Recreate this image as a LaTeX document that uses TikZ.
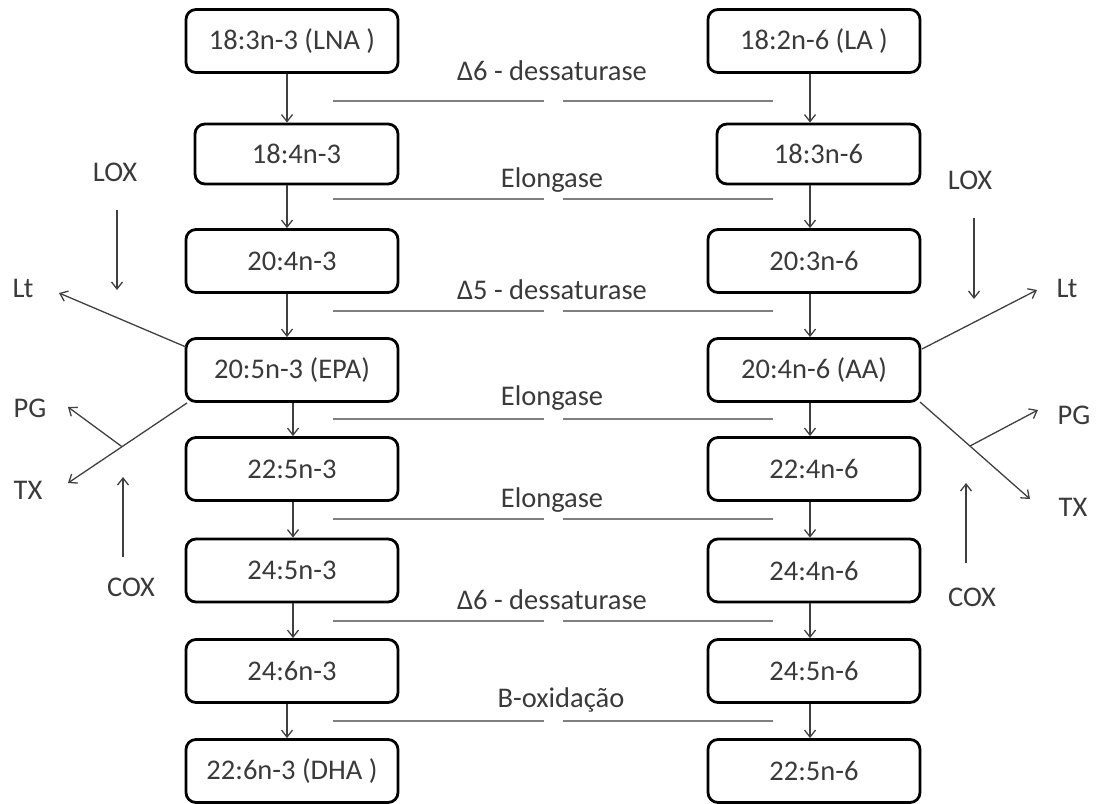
\documentclass[tikz,border=0pt]{standalone}
\usepackage{fontspec}
\setmainfont{Carlito}
\usetikzlibrary{arrows.meta,calc}
\definecolor{txt}{HTML}{3A3A3A}
\definecolor{arrc}{HTML}{404040}
\definecolor{linec}{HTML}{808080}
\begin{document}
\begin{tikzpicture}[x=1pt,y=-1pt,
  font=\fontsize{28.5}{34}\selectfont,
  box/.style={draw=black,line width=2.8pt,rounded corners=10pt,minimum width=212pt,minimum height=63pt,inner sep=0pt,text=txt},
  nbox/.style={box,minimum width=203pt,minimum height=60pt},
  lab/.style={text=txt,inner sep=0pt},
  arr/.style={draw=arrc,line width=1.3pt,-{Straight Barb[length=7pt,width=11pt,line width=1.3pt]}},
  enz/.style={draw=linec,line width=2.2pt}]
\useasboundingbox (0,0) rectangle (1097,803);
% left column
\node[box]  (L1) at (292,41)    {18:3n-3 (LNA )};
\node[nbox] (L2) at (296.5,154) {18:4n-3};
\node[box]  (L3) at (292,261)   {20:4n-3};
\node[box]  (L4) at (292,370)   {20:5n-3 (EPA)};
\node[box]  (L5) at (292,469)   {22:5n-3};
\node[box]  (L6) at (292,570.5) {24:5n-3};
\node[box]  (L7) at (292,671)   {24:6n-3};
\node[box]  (L8) at (292,771)   {22:6n-3 (DHA )};
% right column
\node[box]  (R1) at (814,41)    {18:2n-6 (LA )};
\node[nbox] (R2) at (818.5,154) {18:3n-6};
\node[box]  (R3) at (814,261)   {20:3n-6};
\node[box]  (R4) at (814,370)   {20:4n-6 (AA)};
\node[box]  (R5) at (814,469)   {22:4n-6};
\node[box]  (R6) at (814,570.5) {24:4n-6};
\node[box]  (R7) at (814,671)   {24:5n-6};
\node[box]  (R8) at (814,771)   {22:5n-6};
% vertical arrows left
\foreach \a/\b/\x in {L1/L2/287,L2/L3/287,L3/L4/287,L4/L5/293,L5/L6/293,L6/L7/293,L7/L8/287}
  \draw[arr] (\a.south -| \x,0) -- (\b.north -| \x,0);
\foreach \a/\b in {R1/R2,R2/R3,R3/R4,R4/R5,R5/R6,R6/R7,R7/R8}
  \draw[arr] (\a.south -| 810,0) -- (\b.north -| 810,0);
% enzyme lines and labels
\foreach \y/\ly/\t/\lx [count=\i] in {101/71/{Δ6 - dessaturase}/552,199/180/{Elongase}/552,
    311/290/{Δ5 - dessaturase}/552,419/398/{Elongase}/552,519/500/{Elongase}/552,
    621/600/{Δ6 - dessaturase}/552,721/700/{B-oxidação}/561}{
  \coordinate (e\i a) at (333,\y);
  \coordinate (e\i b) at (544,\y);
  \coordinate (e\i c) at (563,\y);
  \coordinate (e\i d) at (773,\y);
  \draw[enz] (e\i a) -- (e\i b);
  \draw[enz] (e\i c) -- (e\i d);
  \node[lab] (el\i) at (\lx,\ly) {\t};
}
% left side pathways
\node[lab] (loxL) at (115,172) {LOX};
\coordinate (loxLs) at (117,210);
\coordinate (loxLe) at (117,290);
\draw[arr] (loxLs) -- (loxLe);
\node[lab] (ltL) at (23,288) {Lt};
\coordinate (ltLs) at (186,347);
\coordinate (ltLe) at (59,293);
\draw[arr] (ltLs) -- (ltLe);
\node[lab] (pgL) at (30,408) {PG};
\node[lab] (txL) at (28,490) {TX};
\coordinate (txLs) at (187,403);
\coordinate (txLe) at (68,483);
\draw[arr] (txLs) -- (txLe);
\coordinate (brL) at (122,446.7);
\coordinate (pgLe) at (68,407);
\draw[arr] (brL) -- (pgLe);
\coordinate (coxLs) at (123,557);
\coordinate (coxLe) at (123,477);
\draw[arr] (coxLs) -- (coxLe);
\node[lab] (coxL) at (131,587) {COX};
% right side pathways
\node[lab] (loxR) at (970,180) {LOX};
\coordinate (loxRs) at (974,218);
\coordinate (loxRe) at (974,299);
\draw[arr] (loxRs) -- (loxRe);
\node[lab] (ltR) at (1067,288) {Lt};
\coordinate (ltRs) at (922,349);
\coordinate (ltRe) at (1037,290);
\draw[arr] (ltRs) -- (ltRe);
\node[lab] (pgR) at (1074,415) {PG};
\coordinate (brR) at (970,446);
\coordinate (pgRe) at (1038,410);
\draw[arr] (brR) -- (pgRe);
\node[lab] (txR) at (1073,507) {TX};
\coordinate (txRs) at (920,402);
\coordinate (txRe) at (1030,499);
\draw[arr] (txRs) -- (txRe);
\coordinate (coxRs) at (966,563);
\coordinate (coxRe) at (966,483);
\draw[arr] (coxRs) -- (coxRe);
\node[lab] (coxR) at (972,597) {COX};
\end{tikzpicture}
\end{document}
